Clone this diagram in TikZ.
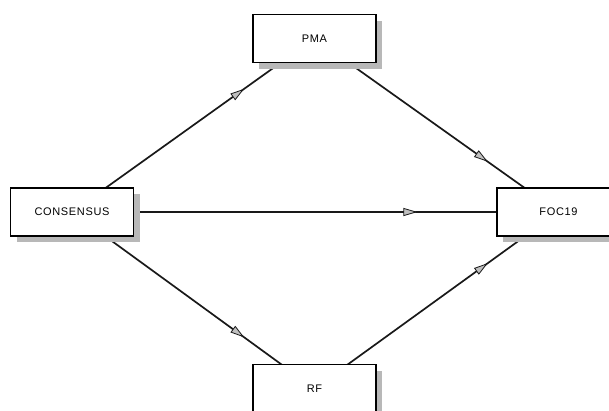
\documentclass[tikz,border=0pt]{standalone}
\usepackage{fontspec}
\setmainfont{Liberation Sans}[LetterSpace=6]
\usetikzlibrary{shadows,backgrounds,decorations.markings,arrows.meta}
\begin{document}
\begin{tikzpicture}[x=1pt,y=-1pt,
  boxnode/.style={draw=black, line width=1.6pt, fill=white, minimum width=123pt, minimum height=48pt, inner sep=0pt, font=\fontsize{11}{13}\selectfont,
    drop shadow={shadow xshift=6pt, shadow yshift=-6pt, fill=black!28, opacity=1}},
  link/.style={draw=black!90, line width=1.7pt,
    postaction={decorate},
    decoration={markings, mark=at position 0.71 with {\arrow{Triangle[length=14pt,width=8pt,fill=black!25,line width=0.8pt]}}}}
]
\useasboundingbox (0,0) rectangle (609,410);
\clip (0,0) rectangle (609,410);
\node[boxnode] (cons) at (72,212) {CONSENSUS};
\node[boxnode] (pma) at (314.5,38.5) {PMA};
\node[boxnode] (foc) at (558.5,212) {FOC19};
\node[boxnode] (rf) at (314.5,388.5) {RF};
\begin{pgfonlayer}{background}
\draw[link] (cons.center) -- (pma.center);
\draw[link] (pma.center) -- (foc.center);
\draw[link] (cons.center) -- (foc.center);
\draw[link] (cons.center) -- (rf.center);
\draw[link] (rf.center) -- (foc.center);
\end{pgfonlayer}
\end{tikzpicture}
\end{document}
